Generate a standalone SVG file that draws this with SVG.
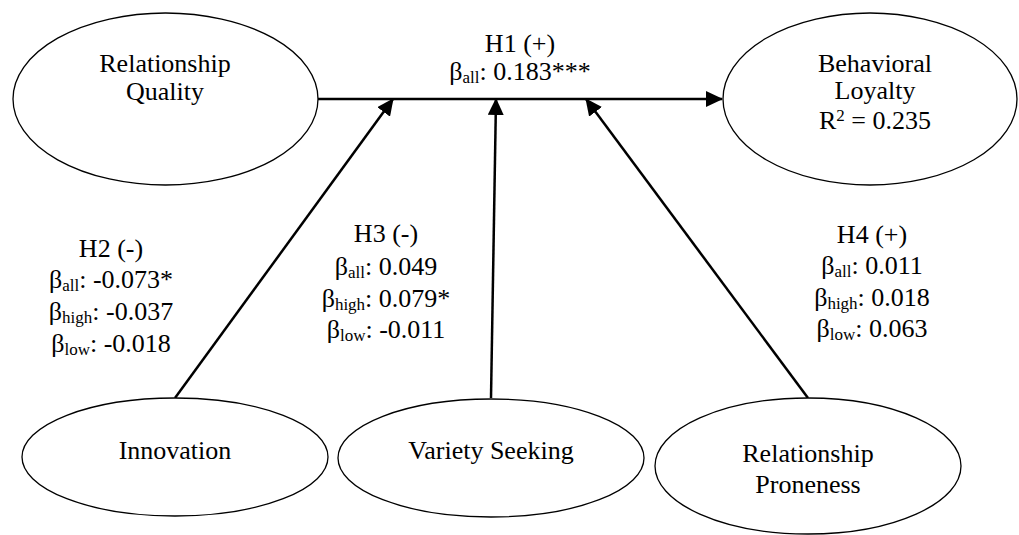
<svg xmlns="http://www.w3.org/2000/svg" width="1019" height="535" viewBox="0 0 1019 535">
<style>
.node{fill:#fff;stroke:#000;stroke-width:1.3}
.lbl{font-family:"Liberation Serif","Times New Roman",serif;font-size:26px;fill:#000;text-anchor:middle}
.sub{font-size:17px}
.con{stroke:#000;stroke-width:2.5;fill:none;marker-end:url(#arr)}
</style>
<defs>
<marker id="arr" markerUnits="userSpaceOnUse" markerWidth="17" markerHeight="16" refX="16" refY="8" orient="auto">
<path d="M0,0 L17,8 L0,16 Z" fill="#000"/>
</marker>
</defs>
<rect width="1019" height="535" fill="#fff"/>
<g id="connectors">
<line class="con" x1="318" y1="99" x2="722" y2="99"/>
<line class="con" x1="175" y1="398" x2="393" y2="99"/>
<line class="con" x1="491" y1="398" x2="496" y2="99"/>
<line class="con" x1="808" y1="398" x2="586" y2="99"/>
</g>
<g id="relationship-quality">
<ellipse class="node" cx="165.5" cy="99" rx="152.5" ry="86"/>
<text class="lbl" x="165" y="72">Relationship</text>
<text class="lbl" x="165" y="100">Quality</text>
</g>
<g id="behavioral-loyalty">
<ellipse class="node" cx="870" cy="99" rx="147" ry="86"/>
<text class="lbl" x="875" y="72">Behavioral</text>
<text class="lbl" x="875" y="99">Loyalty</text>
<text class="lbl" x="875" y="129">R<tspan class="sub" dy="-8">2</tspan><tspan dy="8"> = 0.235</tspan></text>
</g>
<g id="innovation">
<ellipse class="node" cx="175" cy="457" rx="153" ry="59"/>
<text class="lbl" x="175" y="459">Innovation</text>
</g>
<g id="variety-seeking">
<ellipse class="node" cx="491" cy="458" rx="153" ry="59"/>
<text class="lbl" x="491" y="459">Variety Seeking</text>
</g>
<g id="relationship-proneness">
<ellipse class="node" cx="808" cy="466" rx="153" ry="68"/>
<text class="lbl" x="808" y="462">Relationship</text>
<text class="lbl" x="808" y="493">Proneness</text>
</g>
<g id="label-h1">
<text class="lbl" x="520" y="52">H1 (+)</text>
<text class="lbl" x="520" y="80">β<tspan class="sub" dy="3">all</tspan><tspan dy="-3">: 0.183***</tspan></text>
</g>
<g id="label-h2">
<text class="lbl" x="111" y="257">H2 (-)</text>
<text class="lbl" x="111" y="288">β<tspan class="sub" dy="3">all</tspan><tspan dy="-3">: -0.073*</tspan></text>
<text class="lbl" x="111" y="320">β<tspan class="sub" dy="3">high</tspan><tspan dy="-3">: -0.037</tspan></text>
<text class="lbl" x="111" y="352">β<tspan class="sub" dy="3">low</tspan><tspan dy="-3">: -0.018</tspan></text>
</g>
<g id="label-h3">
<text class="lbl" x="386" y="242">H3 (-)</text>
<text class="lbl" x="386" y="275">β<tspan class="sub" dy="3">all</tspan><tspan dy="-3">: 0.049</tspan></text>
<text class="lbl" x="386" y="307">β<tspan class="sub" dy="3">high</tspan><tspan dy="-3">: 0.079*</tspan></text>
<text class="lbl" x="386" y="338">β<tspan class="sub" dy="3">low</tspan><tspan dy="-3">: -0.011</tspan></text>
</g>
<g id="label-h4">
<text class="lbl" x="872" y="243">H4 (+)</text>
<text class="lbl" x="872" y="274">β<tspan class="sub" dy="3">all</tspan><tspan dy="-3">: 0.011</tspan></text>
<text class="lbl" x="872" y="306">β<tspan class="sub" dy="3">high</tspan><tspan dy="-3">: 0.018</tspan></text>
<text class="lbl" x="872" y="337">β<tspan class="sub" dy="3">low</tspan><tspan dy="-3">: 0.063</tspan></text>
</g>
</svg>
